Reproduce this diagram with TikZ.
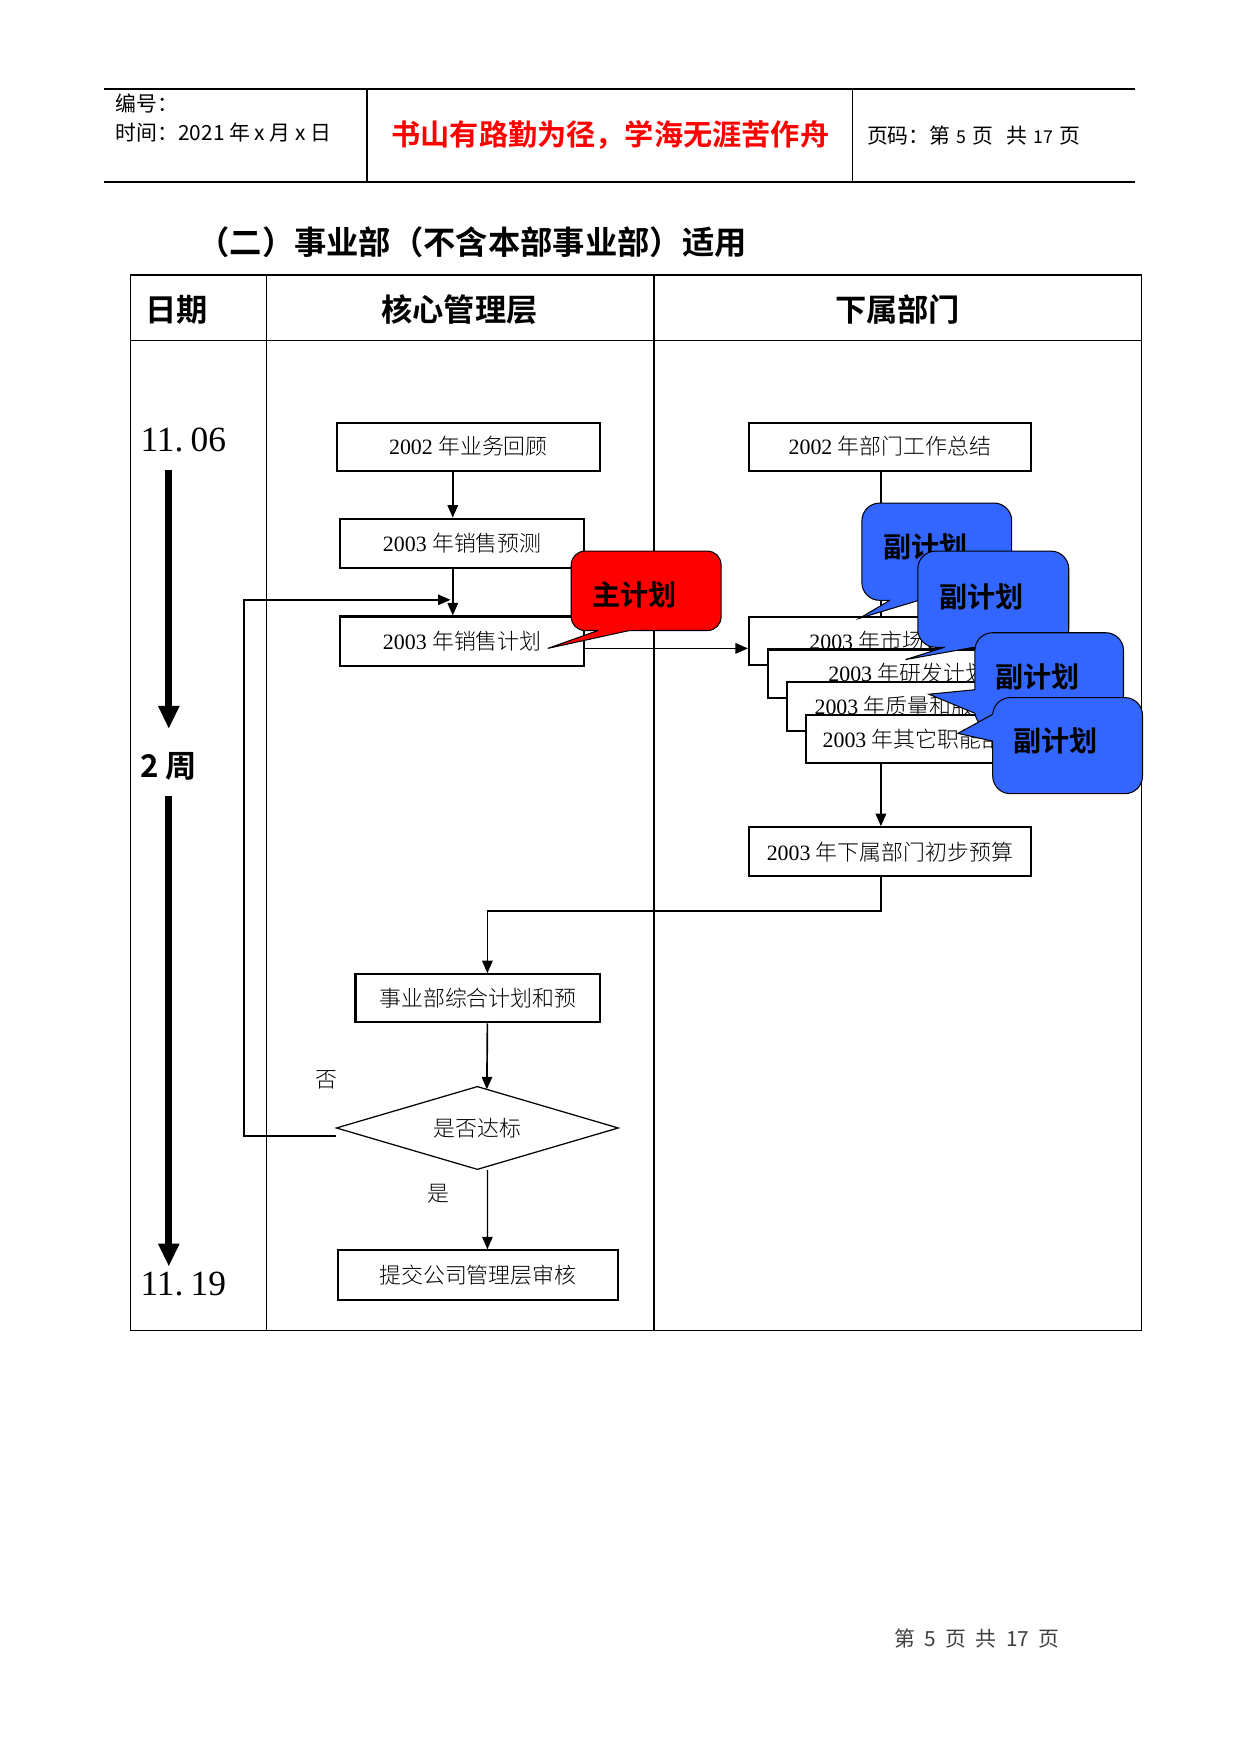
\documentclass[tikz,border=0pt]{standalone}
\usepackage{fontspec}
\setmainfont{Liberation Serif}
\newfontfamily\cjk{Noto Sans CJK SC}
\newfontfamily\cjkl{Noto Sans CJK SC Light}
\newfontfamily\cjkb{Noto Sans CJK SC Bold}
\usetikzlibrary{arrows.meta,calc}
\definecolor{cblue}{HTML}{3366FF}
\newcommand\pu{0.5363pt}
\newcommand\bt[2]{#1 {\cjkl #2}}
\newcommand\gap{\hspace{0.45em}}
\newcommand\callshape[9]{%
  \fill[#1,rounded corners=#2] (#3,#4) rectangle (#5,#6);
  \fill[#1] (#7) -- (#8) -- (#9) -- cycle;
  \draw[callline,rounded corners=#2] (#3,#4) rectangle (#5,#6);
  \fill[#1] ($(#8)!1.2!(#7)$) -- (#8) -- ($(#8)!1.2!(#9)$) -- cycle;
  \draw[callline] (#7) -- (#8) -- (#9);}
\begin{document}
\begin{tikzpicture}[x=0.5363pt,y=-0.5363pt,
  tl/.style={line width=0.5pt},
  box/.style={draw, line width=1pt, fill=white, inner sep=0pt, font=\fontsize{10.5}{12}\selectfont},
  conn/.style={line width=0.8pt},
  arr/.style={conn,-{Triangle[length=6pt,width=5pt]}},
  bigarr/.style={line width=3.2pt,-{Triangle[length=11pt,width=9.5pt]}},
  callline/.style={draw=black,line width=0.5pt},
  ctext/.style={font=\cjkb\fontsize{13.5}{15}\selectfont},
  hdr/.style={font=\cjkb\fontsize{15}{18}\selectfont},
  small/.style={font=\cjk\fontsize{10}{12}\selectfont},
  datef/.style={font=\fontsize{17}{20}\selectfont},
  lbl/.style={font=\cjkl\fontsize{10.5}{12}\selectfont},
]
\useasboundingbox (0,0) rectangle (1110,1569);

% page header
\draw[line width=1pt] (93,80) -- (1015,80);
\draw[line width=1pt] (93,163) -- (1015,163);
\draw[line width=0.9pt] (328,80) -- (328,163);
\draw[line width=0.5pt] (763,80) -- (763,163);
\node[small,anchor=west] (hno) at (97,93) {编号：};
\node[small,anchor=west] (htime) at (97,118.5) {时间：2021 年 x 月 x 日};
\node[font=\cjkb\fontsize{14}{16}\selectfont,text=red] (hmotto) at (546,121) {书山有路勤为径，学海无涯苦作舟};
\node[small,anchor=west] (hpage) at (769,121) {页码：第\hspace{0.3em}{\fontsize{8.5}{10}\selectfont 5}\hspace{0.3em}页\hspace{0.6em}共\hspace{0.3em}{\fontsize{8.5}{10}\selectfont 17}\hspace{0.3em}页};

% title
\node[anchor=west,font=\cjkb\fontsize{15.5}{18}\selectfont] (title) at (170,217) {（二）事业部（不含本部事业部）适用};

% table
\draw[tl] (117,246) rectangle (1021,1190);
\draw[tl] (117,305) -- (1021,305);
\draw[tl] (238,246) -- (238,1190);
\draw[tl] (585,246) -- (585,1190);
\node[hdr] (hdate) at (158,277) {日期};
\node[hdr] (hcore) at (411,277) {核心管理层};
\node[hdr] (hsub) at (803,277) {下属部门};

% date column
\node[datef] (d1) at (164,394) {11.\kern0.2em 06};
\node[font=\cjkb\fontsize{15}{18}\selectfont] (d2) at (151,686) {2 周};
\node[datef] (d3) at (164,1149) {11.\kern0.2em 19};
\coordinate (t1a) at (151,420);
\coordinate (t1b) at (151,652);
\coordinate (t2a) at (151,712);
\coordinate (t2b) at (151,1133);
\draw[bigarr] (t1a) -- (t1b);
\draw[bigarr] (t2a) -- (t2b);

% core management column
\node[box,minimum width=235*\pu,minimum height=43*\pu] (b1) at (419,399.5) {\bt{2002}{年业务回顾}};
\node[box,minimum width=218*\pu,minimum height=44*\pu] (b2) at (413.5,486) {\bt{2003}{年销售预测}};
\node[box,minimum width=218*\pu,minimum height=44*\pu] (b3) at (413.5,573.5) {\bt{2003}{年销售计划}};
\draw[arr] ($(b1.south)+(-14,0)$) -- ($(b2.north)+(-8.5,0)$);
\draw[arr] ($(b2.south)+(-8.5,0)$) -- ($(b3.north)+(-8.5,0)$);

\node[box,minimum width=219*\pu,minimum height=43*\pu] (comp) at (427.5,893) {{\cjkl 事业部综合计划和预}};
\coordinate (dmW) at (301,1009);
\coordinate (dmN) at (427,972);
\coordinate (dmE) at (553,1009);
\coordinate (dmS) at (427,1046);
\draw[line width=0.6pt,fill=white] (dmW) -- (dmN) -- (dmE) -- (dmS) -- cycle;
\node[lbl] (dm) at (427,1009) {是否达标};
\node[box,minimum width=251*\pu,minimum height=44*\pu] (subm) at (427.5,1140.5) {{\cjkl 提交公司管理层审核}};
\node[lbl] (no) at (292,966) {否};
\node[lbl] (yes) at (392,1068) {是};

\draw[arr] ($(comp.south)+(8.5,0)$) -- ($(dmN)+(8.5,2.5)$);
\draw[line width=0.6pt,-{Triangle[length=6pt,width=5pt]}] ($(dmS)+(9,0.5)$) -- ($(subm.north)+(8.5,0)$);
\draw[arr] ($(dmW)+(0,7)$) -- ++(-83,0) |- ($(b3.north)+(-10.5,-14)$);

% subordinate departments column
\node[box,minimum width=252*\pu,minimum height=43*\pu] (bT) at (796,399.5) {\bt{2002}{年部门工作总结}};
\draw[conn] ($(bT.south)+(-8,0)$) -- (788,552);
\node[box,minimum width=250*\pu,minimum height=43*\pu] (bA) at (795,573.5) {\bt{2003}{年市场计划}};
\node[box,minimum width=250*\pu,minimum height=43*\pu] (bB) at (812,602.5) {\bt{2003}{年研发计划}};
\node[box,minimum width=250*\pu,minimum height=44*\pu] (bC) at (829,632) {\bt{2003}{年质量和服务计划}};
\node[box,minimum width=250*\pu,minimum height=43*\pu] (bD) at (846,661) {\bt{2003}{年其它职能部门计划}};
\node[box,minimum width=252*\pu,minimum height=44*\pu] (bud) at (796,762) {\bt{2003}{年下属部门初步预算}};
\draw[arr] ($(b3.east)+(0,6.5)$) -- ($(bA.west)+(0,6.5)$);
\draw[arr] ($(bD.south)+(-58,0)$) -- ($(bud.north)+(-8,0)$);
\draw[arr] ($(bud.south)+(-8,0)$) -- ++(0,30) -| ($(comp.north)+(8.5,0)$);

% callouts
\callshape{red}{6.5pt}{511}{493}{645}{564}{535,564}{490,580}{563,564}
\node[ctext] (cr) at (567.5,532) {主计划};
\callshape{cblue}{8.5pt}{771}{450}{905}{537}{796,537}{769,553}{822,537}
\node[ctext] (cb1) at (828,489.5) {副计划};
\callshape{cblue}{8.5pt}{821}{493}{956}{579}{845,579}{810,590}{871,579}
\node[ctext] (cb2) at (878,533.5) {副计划};
\callshape{cblue}{8.5pt}{872}{566}{1005}{652}{872,617}{831,621}{872,638}
\node[ctext] (cb3) at (928,605) {副计划};
\callshape{cblue}{8.5pt}{888}{624}{1022}{710}{888,639}{857,656}{888,663}
\node[ctext] (cb4) at (944.5,663) {副计划};

% footer
\node[font=\cjk\fontsize{10}{12}\selectfont,text=black!75] (foot) at (874,1466) {第\gap 5\gap 页\gap 共\gap 17\gap 页};
\end{tikzpicture}
\end{document}
